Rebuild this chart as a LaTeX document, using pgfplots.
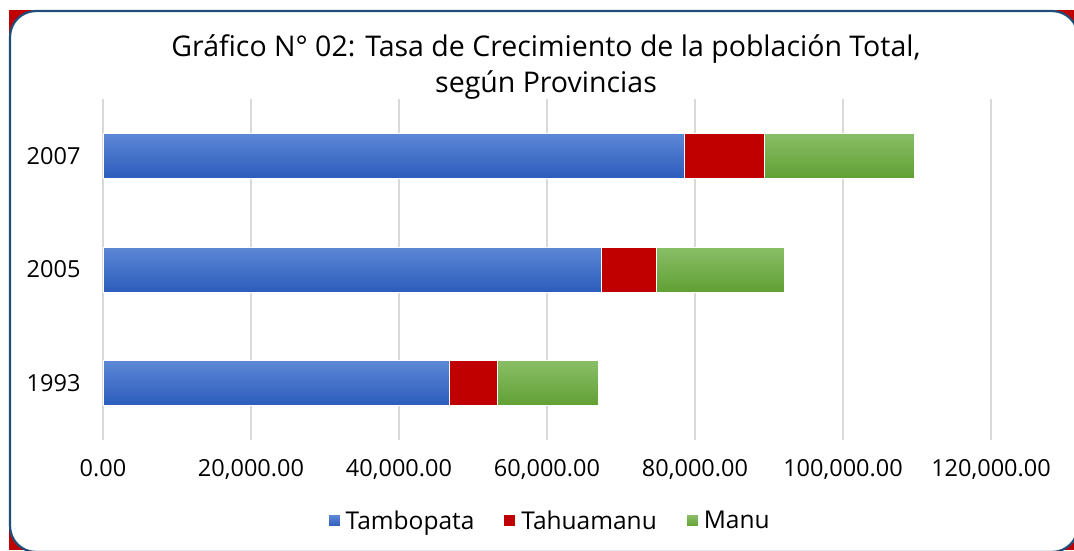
\documentclass[border=0pt]{standalone}
\usepackage{fontspec}
\setmainfont{Open Sans}
\usepackage{pgfplots}
\pgfplotsset{compat=1.18}
\definecolor{tblueA}{HTML}{5D88D6}
\definecolor{tblueB}{HTML}{2C5CBC}
\definecolor{tred}{HTML}{C00000}
\definecolor{tgreenA}{HTML}{89BE67}
\definecolor{tgreenB}{HTML}{61A034}
\definecolor{frame}{HTML}{1F4E79}
\definecolor{gridc}{HTML}{D9D9D9}
\pgfplotsset{
  geom/.style={
    at={(103pt,110pt)}, anchor=south west,
    width=888pt, height=341pt, scale only axis,
    xbar stacked, bar width=45pt,
    xmin=0, xmax=120000, ymin=-0.5, ymax=2.5,
  },
  tamb/.style={draw=white, line width=1pt, top color=tblueA, bottom color=tblueB,
    legend image code/.code={\path[fill=tblueB!90!white] (0pt,-6pt) rectangle (12pt,6pt);}},
  tahu/.style={draw=white, line width=1pt, fill=tred,
    legend image code/.code={\path[fill=tred] (0pt,-6pt) rectangle (12pt,6pt);}},
  manu/.style={draw=white, line width=1pt, top color=tgreenA, bottom color=tgreenB,
    legend image code/.code={\path[fill=tgreenB!90!white] (0pt,-6pt) rectangle (12pt,6pt);}},
}
\begin{document}
\begin{tikzpicture}[x=1pt,y=1pt]
\useasboundingbox (0,0) rectangle (1074,550);
\begin{scope}
\clip (0,0) rectangle (1074,550);
\fill[tred] (9,0) rectangle (1074,540);
\draw[frame, fill=white, line width=2.2pt, rounded corners=26pt] (10,-2) rectangle (1078,539);
\end{scope}
\node[font=\fontsize{28.5}{36}\selectfont, align=center] at (546,483) {Gráfico N° 02: Tasa de Crecimiento de la población Total,\\ según Provincias};
% 1993 (with grid, ticks and legend)
\begin{axis}[geom,
  ytick={0,1,2}, yticklabels={1993,2005,2007},
  xtick={0,20000,40000,60000,80000,100000,120000},
  scaled x ticks=false,
  xticklabel style={yshift=-16pt, /pgf/number format/fixed, /pgf/number format/fixed zerofill, /pgf/number format/precision=2, /pgf/number format/1000 sep={,}, /pgf/number format/assume math mode=true},
  tick label style={font=\fontsize{23.5}{26}\selectfont},
  yticklabel style={xshift=-19pt},
  axis line style={draw=none},
  major tick length=0pt,
  xmajorgrids, ymajorgrids=false,
  grid style={gridc, line width=1.5pt},
  legend columns=3,
  legend style={at={(0.503,-0.2375)}, anchor=center, draw=none, fill=none,
    font=\fontsize{24.5}{26}\selectfont,
    /tikz/every odd column/.append style={column sep=3pt},
    /tikz/every even column/.append style={column sep=27pt}},
  legend cell align=left,
]
\addplot[tamb] coordinates {(46757,0)};
\addplot[tahu] coordinates {(6486,0)};
\addplot[manu] coordinates {(13649,0)};
\legend{Tambopata, Tahuamanu, Manu}
\end{axis}
% 2005
\begin{axis}[geom, hide axis]
\addplot[tamb] coordinates {(67297,1)};
\addplot[tahu] coordinates {(7433,1)};
\addplot[manu] coordinates {(17297,1)};
\end{axis}
% 2007
\begin{axis}[geom, hide axis]
\addplot[tamb] coordinates {(78514,2)};
\addplot[tahu] coordinates {(10810,2)};
\addplot[manu] coordinates {(20270,2)};
\end{axis}
\end{tikzpicture}
\end{document}
